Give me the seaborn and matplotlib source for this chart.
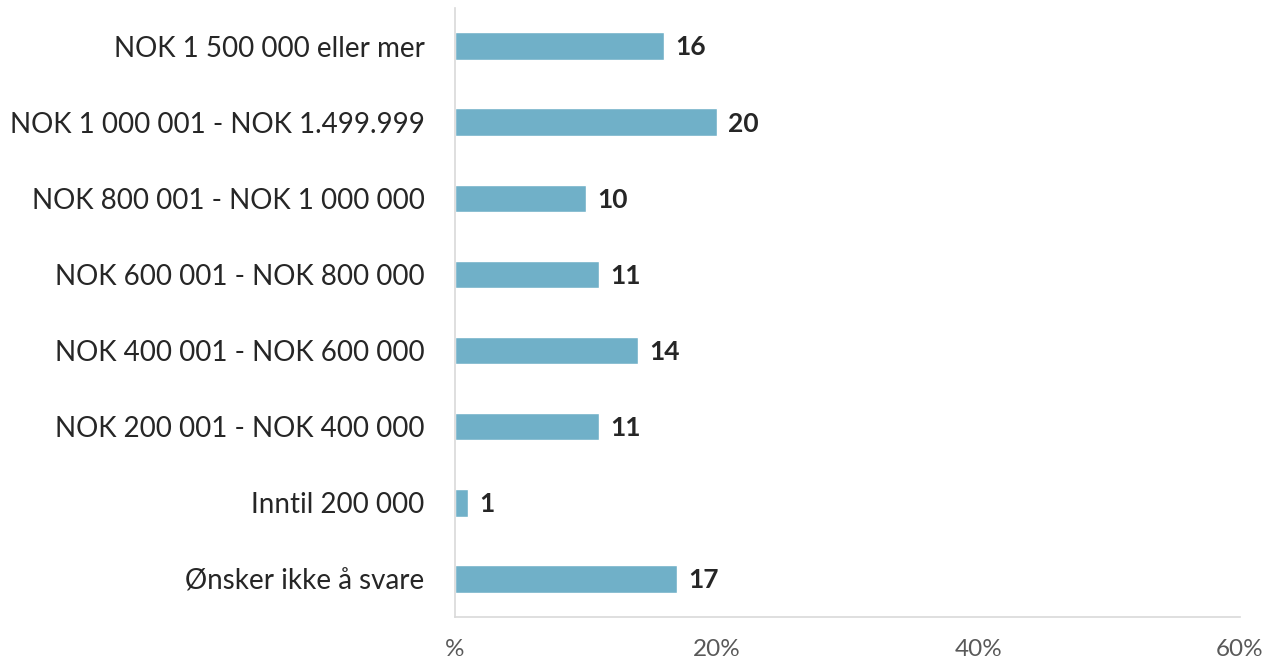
import matplotlib
matplotlib.use("Agg")
import matplotlib.pyplot as plt
import seaborn as sns
import pandas as pd

categories = [
    "NOK 1 500 000 eller mer",
    "NOK 1 000 001 - NOK 1.499.999",
    "NOK 800 001 - NOK 1 000 000",
    "NOK 600 001 - NOK 800 000",
    "NOK 400 001 - NOK 600 000",
    "NOK 200 001 - NOK 400 000",
    "Inntil 200 000",
    "Ønsker ikke å svare",
]
values = [16, 20, 10, 11, 14, 11, 1, 17]
tick_values = [0, 20, 40, 60]
tick_labels = ["%", "20%", "40%", "60%"]

sns.set_theme(style="white")
plt.rcParams["font.family"] = ["Lato", "DejaVu Sans"]

df = pd.DataFrame({"kategori": categories, "andel": values})

fig = plt.figure(figsize=(12.7, 6.65), dpi=100)
ax = fig.add_axes([0.3583, 0.0722, 0.6181, 0.9158])

sns.barplot(data=df, x="andel", y="kategori", orient="h", color="#70B0C8",
            saturation=1, width=0.36, ax=ax)

for i, v in enumerate(values):
    ax.annotate(str(v), xy=(v, i), xytext=(8, -1), textcoords="offset points",
                ha="left", va="center", fontsize=19, fontweight="bold",
                color="#262626")

ax.set_xlim(0, 60)
ax.set_ylim(7.5, -0.5)
ax.set_xticks(tick_values)
ax.set_xticklabels(tick_labels, fontsize=17.5, color="#595959")
ax.tick_params(axis="x", length=0, pad=16)
ax.tick_params(axis="y", length=0, pad=22, labelsize=20, labelcolor="#262626")
ax.set_xlabel("")
ax.set_ylabel("")

for side in ("top", "right"):
    ax.spines[side].set_visible(False)
for side in ("left", "bottom"):
    ax.spines[side].set_color("#D9D9D9")
    ax.spines[side].set_linewidth(1.2)

fig.savefig("out.png", dpi=100)
